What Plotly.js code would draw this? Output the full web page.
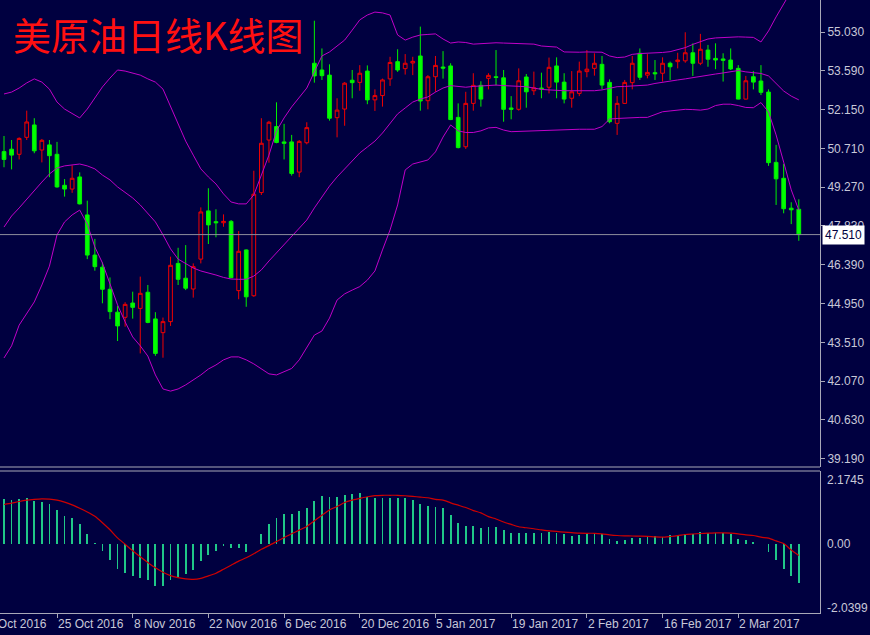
<!DOCTYPE html>
<html>
<head>
<meta charset="utf-8">
<script src="https://cdn.plot.ly/plotly-3.0.1.min.js"></script>
<style>
html,body{margin:0;padding:0;background:#000040;}
#chart{width:870px;height:635px;}
</style>
</head>
<body>
<div id="chart"></div>
<script>
const chartTitle = '美原油日线K线图';
const dates = [
'2016-10-14','2016-10-17','2016-10-18','2016-10-19','2016-10-20','2016-10-21','2016-10-24','2016-10-25','2016-10-26','2016-10-27',
'2016-10-28','2016-10-31','2016-11-01','2016-11-02','2016-11-03','2016-11-04','2016-11-07','2016-11-08','2016-11-09','2016-11-10',
'2016-11-11','2016-11-14','2016-11-15','2016-11-16','2016-11-17','2016-11-18','2016-11-21','2016-11-22','2016-11-23','2016-11-24',
'2016-11-25','2016-11-28','2016-11-29','2016-11-30','2016-12-01','2016-12-02','2016-12-05','2016-12-06','2016-12-07','2016-12-08',
'2016-12-09','2016-12-12','2016-12-13','2016-12-14','2016-12-15','2016-12-16','2016-12-19','2016-12-20','2016-12-21','2016-12-22',
'2016-12-23','2016-12-27','2016-12-28','2016-12-29','2016-12-30','2017-01-03','2017-01-04','2017-01-05','2017-01-06','2017-01-09',
'2017-01-10','2017-01-11','2017-01-12','2017-01-13','2017-01-16','2017-01-17','2017-01-18','2017-01-19','2017-01-20','2017-01-23',
'2017-01-24','2017-01-25','2017-01-26','2017-01-27','2017-01-30','2017-01-31','2017-02-01','2017-02-02','2017-02-03','2017-02-06',
'2017-02-07','2017-02-08','2017-02-09','2017-02-10','2017-02-13','2017-02-14','2017-02-15','2017-02-16','2017-02-17','2017-02-20',
'2017-02-21','2017-02-22','2017-02-23','2017-02-24','2017-02-27','2017-02-28','2017-03-01','2017-03-02','2017-03-03','2017-03-06',
'2017-03-07','2017-03-08','2017-03-09','2017-03-10','2017-03-13','2017-03-14'];

const opens = [50.59,50.68,50.49,51.12,51.58,50.65,50.84,50.49,49.34,49.20,
49.65,48.24,46.75,46.30,45.48,44.63,44.44,44.97,44.77,45.37,
44.38,43.87,44.28,46.44,45.89,45.49,46.60,48.39,47.99,47.95,
48.00,45.43,46.94,45.24,49.07,51.02,51.52,50.95,50.95,49.83,
50.92,53.87,53.62,53.43,51.85,52.17,53.24,53.16,53.58,52.51,
52.67,53.29,53.93,53.67,53.88,54.14,52.48,53.37,53.73,53.77,
51.86,50.77,52.38,53.05,53.31,53.37,53.33,52.21,52.16,53.36,
52.85,52.95,52.98,53.77,53.17,52.57,52.75,53.56,53.68,53.83,
53.16,51.64,52.38,53.15,54.24,53.43,53.52,53.50,53.87,53.93,
53.96,54.26,53.87,54.36,54.05,54.03,53.99,53.68,52.54,53.37,
53.21,52.80,50.19,49.60,48.49,48.45];
const highs = [51.17,51.02,51.12,52.11,51.83,51.06,51.02,50.95,49.57,50.08,
49.82,48.77,47.35,46.48,45.92,44.86,45.00,45.39,45.95,45.64,
44.63,44.43,46.69,47.02,47.12,46.44,48.52,49.23,48.45,48.26,
48.05,47.64,46.96,49.88,51.83,51.73,52.42,51.62,51.21,51.02,
51.68,55.45,54.42,53.83,52.57,53.17,53.62,53.80,53.79,52.90,
53.30,54.11,54.39,54.21,54.11,55.23,53.43,54.14,54.32,53.87,
52.38,52.81,53.50,53.20,53.50,54.36,53.62,52.65,53.68,53.47,
53.56,53.52,54.08,54.09,53.50,53.58,53.93,54.36,54.24,54.14,
53.27,52.65,53.25,54.14,54.42,54.21,53.99,54.09,53.93,54.26,
55.02,54.61,54.96,54.55,54.61,54.24,54.42,53.80,53.40,53.58,
53.80,52.90,50.84,50.13,48.71,48.82];
const lows = [50.01,49.93,50.30,51.02,50.53,50.19,49.64,49.25,48.92,49.06,
48.63,46.60,46.17,44.96,44.37,43.56,44.09,44.39,43.10,44.22,
43.01,42.94,44.12,45.64,45.45,45.17,46.44,47.16,47.41,47.80,
45.89,45.11,44.83,45.20,48.98,50.18,50.90,50.30,49.70,49.64,
50.86,53.15,53.25,51.74,51.12,51.55,52.57,52.85,52.35,52.10,
52.26,53.03,53.55,53.45,53.43,52.11,52.16,52.81,53.30,51.76,
50.71,50.69,52.11,52.26,52.90,53.05,51.70,51.79,52.11,52.22,
52.69,52.57,52.75,52.57,52.38,52.22,52.65,53.35,53.41,52.91,
51.64,51.21,52.36,52.90,53.25,53.31,53.25,53.19,53.25,53.68,
53.89,53.40,53.80,53.74,53.65,53.19,53.62,52.53,52.53,52.90,
52.69,50.06,48.61,48.30,47.90,47.28];
const closes = [50.30,50.46,51.08,51.69,50.62,51.01,50.44,49.28,49.20,49.60,
48.65,46.75,46.32,45.48,44.65,44.12,44.92,44.81,45.33,44.25,
43.10,44.28,46.37,45.85,45.52,46.32,48.35,47.87,47.95,48.00,
45.91,46.89,45.20,49.01,50.90,51.68,50.93,50.90,49.78,50.97,
51.48,53.40,53.41,51.83,52.13,53.13,53.15,53.50,52.51,52.67,
53.25,53.90,53.62,53.87,53.94,52.47,53.37,53.79,53.69,51.78,
50.74,52.38,53.05,52.54,53.42,53.34,52.16,52.16,53.22,52.81,
52.96,52.92,53.72,53.17,52.54,52.81,53.58,53.65,53.87,53.06,
51.70,52.38,53.16,53.87,53.35,53.53,53.48,53.87,53.74,53.99,
54.26,53.87,54.39,54.02,53.99,53.98,53.66,52.54,53.22,53.17,
52.79,50.18,49.58,48.47,48.43,47.51];

const bandUpper = [52.73,52.80,52.95,53.14,53.29,53.17,52.91,52.43,52.17,51.99,
51.84,52.17,52.58,52.99,53.32,53.62,53.58,53.51,53.43,53.29,
53.17,52.91,52.28,51.62,50.98,50.46,49.95,49.65,49.39,49.02,
48.72,48.65,48.65,48.98,49.72,50.46,51.36,51.84,52.25,52.62,
52.95,53.55,54.14,54.29,54.51,54.73,55.10,55.48,55.66,55.77,
55.74,55.66,54.92,54.73,54.84,54.92,54.94,54.96,54.77,54.62,
54.66,54.64,54.58,54.60,54.62,54.63,54.62,54.61,54.60,54.58,
54.58,54.51,54.48,54.47,54.29,54.28,54.28,54.29,54.29,54.28,
54.14,54.08,54.10,54.20,54.23,54.24,54.24,54.27,54.30,54.38,
54.45,54.57,54.68,54.77,54.81,54.83,54.84,54.85,54.84,54.83,
54.66,55.07,55.59,56.07,56.55,57.03];
const bandMiddle = [47.79,48.20,48.50,48.83,49.13,49.46,49.76,49.98,50.06,50.09,
50.13,50.06,49.95,49.72,49.54,49.28,49.09,48.87,48.61,48.31,
47.98,47.50,46.98,46.60,46.42,46.27,46.16,46.09,46.01,45.92,
45.86,45.85,45.85,45.97,46.20,46.53,46.83,47.12,47.46,47.76,
48.05,48.50,48.91,49.31,49.65,49.95,50.24,50.54,50.76,50.98,
51.28,51.65,51.99,52.21,52.43,52.54,52.62,52.80,52.95,53.04,
53.01,52.98,53.01,53.03,53.04,53.06,53.04,53.03,53.01,53.00,
52.95,52.90,52.88,52.86,52.85,52.85,52.85,52.85,52.85,52.88,
52.95,53.00,53.01,53.03,53.04,53.06,53.12,53.17,53.22,53.25,
53.29,53.34,53.38,53.42,53.47,53.51,53.56,53.60,53.55,53.53,
53.49,53.40,53.10,52.84,52.65,52.51];
const bandLower = [42.93,43.38,44.15,44.60,45.01,45.64,46.34,47.50,47.98,48.24,
48.42,47.90,47.05,46.46,45.71,44.90,44.27,43.71,43.38,43.00,
42.30,41.78,41.70,41.78,41.93,42.11,42.30,42.52,42.67,42.86,
42.97,42.97,42.86,42.71,42.52,42.34,42.30,42.41,42.54,42.86,
43.34,43.78,43.93,44.41,45.08,45.31,45.45,45.58,45.82,46.16,
46.94,47.68,48.61,49.91,50.13,50.21,50.28,50.58,51.13,51.58,
51.36,51.30,51.30,51.36,51.47,51.49,51.39,51.33,51.34,51.36,
51.37,51.39,51.39,51.39,51.40,51.41,51.42,51.42,51.42,51.52,
51.80,51.82,51.84,51.85,51.86,51.86,51.98,52.07,52.10,52.13,
52.16,52.15,52.13,52.17,52.30,52.35,52.35,52.30,52.23,52.22,
52.41,52.06,51.21,50.20,49.17,48.42];

const macdMain = [1.335,1.306,1.335,1.365,1.296,1.266,1.187,1.019,0.851,0.772,
0.603,0.307,0.04,-0.198,-0.465,-0.732,-0.861,-0.940,-1.009,-1.058,
-1.227,-1.227,-1.058,-0.959,-0.890,-0.762,-0.495,-0.326,-0.188,-0.04,
-0.119,-0.099,-0.218,0.01,0.297,0.593,0.772,0.900,0.900,0.989,
1.068,1.296,1.434,1.405,1.405,1.464,1.494,1.523,1.395,1.375,
1.375,1.385,1.375,1.365,1.325,1.187,1.128,1.098,1.078,0.870,
0.623,0.544,0.544,0.495,0.514,0.514,0.425,0.346,0.346,0.326,
0.326,0.326,0.356,0.346,0.297,0.257,0.287,0.326,0.326,0.317,
0.158,0.099,0.129,0.188,0.188,0.218,0.237,0.227,0.277,0.287,
0.317,0.317,0.356,0.336,0.336,0.336,0.297,0.158,0.129,0.079,
0.01,-0.218,-0.465,-0.742,-0.930,-1.157];
const macdSignal = [1.18,1.22,1.27,1.31,1.335,1.35,1.34,1.31,1.25,1.17,
1.07,0.96,0.83,0.64,0.43,0.19,0.00,-0.19,-0.37,-0.54,
-0.70,-0.83,-0.93,-0.99,-1.03,-1.04,-1.01,-0.94,-0.86,-0.74,
-0.62,-0.50,-0.40,-0.28,-0.15,-0.04,0.08,0.20,0.31,0.42,
0.53,0.70,0.86,1.02,1.12,1.24,1.31,1.36,1.41,1.445,
1.454,1.454,1.454,1.44,1.42,1.40,1.38,1.335,1.31,1.23,
1.16,1.09,1.00,0.93,0.82,0.75,0.66,0.59,0.52,0.49,
0.46,0.425,0.40,0.38,0.36,0.345,0.33,0.326,0.326,0.31,
0.28,0.26,0.25,0.245,0.24,0.235,0.22,0.21,0.23,0.255,
0.29,0.305,0.32,0.33,0.336,0.336,0.33,0.31,0.28,0.26,
0.21,0.18,0.10,0.02,-0.17,-0.33];

const priceTicks = [55.03,53.59,52.15,50.71,49.27,47.83,46.39,44.95,43.51,42.07,40.63,39.19];
const priceRange = [38.883, 56.218];
const macdTicks = [2.1745, 0, -2.0399];
const macdTickText = ['2.1745', '0.00', '-2.0399'];
const dateTickIndex = [-3, 7, 17, 27, 37, 47, 57, 67, 77, 87, 97];
const dateTickText = ['11 Oct 2016','25 Oct 2016','8 Nov 2016','22 Nov 2016','6 Dec 2016','20 Dec 2016','5 Jan 2017','19 Jan 2017','2 Feb 2017','16 Feb 2017','2 Mar 2017'];

const BG = '#000040';
const AXIS = '#a8a8b8';
const TXT = '#c8c8d8';
const BAND = '#c000c8';
const FONT = 'Liberation Sans, Arial, sans-serif';
const xRange = [-0.53, 107.8];

const traces = [
  {type:'scatter', mode:'lines', x:dates, y:bandUpper, xaxis:'x', yaxis:'y', line:{color:BAND, width:1}, hoverinfo:'skip'},
  {type:'scatter', mode:'lines', x:dates, y:bandMiddle, xaxis:'x', yaxis:'y', line:{color:BAND, width:1}, hoverinfo:'skip'},
  {type:'scatter', mode:'lines', x:dates, y:bandLower, xaxis:'x', yaxis:'y', line:{color:BAND, width:1}, hoverinfo:'skip'},
  {type:'candlestick', x:dates, open:opens, high:highs, low:lows, close:closes, xaxis:'x', yaxis:'y',
   increasing:{line:{color:'#f00000', width:1}, fillcolor:BG},
   decreasing:{line:{color:'#00f000', width:1}, fillcolor:'#00ff00'},
   whiskerwidth:0},
  {type:'bar', x:dates, y:macdMain, xaxis:'x', yaxis:'y2', width:0.24, marker:{color:'#20c888', line:{width:0}}},
  {type:'scatter', mode:'lines', x:dates, y:macdSignal, xaxis:'x', yaxis:'y2', line:{color:'#d00000', width:1.2, shape:'spline', smoothing:0.6}}
];

const H = 635, B = 22, PH = H - B;
const mainBottom = 467, macdTop = 471;
const mainDomain = [(PH - mainBottom) / PH, 1];
const macdDomain = [0, (PH - macdTop) / PH];

const annotations = [];
annotations.push({xref:'paper', yref:'paper', x:0.013, y:1, xanchor:'left', yanchor:'top', yshift:-4,
  text:chartTitle, showarrow:false, font:{family:'Noto Sans CJK SC, sans-serif', size:38, color:'#ff1010'}});
dateTickIndex.forEach((ix, k) => {
  annotations.push({xref:'paper', yref:'paper', x:(ix - xRange[0]) / (xRange[1] - xRange[0]), y:0,
    xanchor:'left', yanchor:'top', yshift:-2, xshift:-1,
    text:dateTickText[k], showarrow:false, font:{family:FONT, size:12, color:TXT}});
});
const macdShift = [-9, 0, 5];
macdTicks.forEach((v, k) => {
  annotations.push({xref:'paper', yref:'y2', x:1, y:v, xanchor:'left', yanchor:'middle', xshift:5, yshift:macdShift[k],
    text:macdTickText[k], showarrow:false, font:{family:FONT, size:12, color:TXT}});
});
const lastClose = closes[closes.length - 1];
annotations.push({xref:'paper', yref:'y', x:1, y:lastClose, xanchor:'left', yanchor:'middle', xshift:2,
  text:lastClose.toFixed(3), showarrow:false, bgcolor:'#ffffff', borderpad:2,
  font:{family:FONT, size:12, color:'#000040'}});

const shapes = [
  {type:'line', xref:'paper', yref:'y', x0:0, x1:1, y0:lastClose, y1:lastClose, line:{color:'#8c8c9c', width:1}},
  {type:'line', xref:'paper', yref:'paper', x0:0, x1:1.0, y0:mainDomain[0], y1:mainDomain[0], line:{color:AXIS, width:1}},
  {type:'line', xref:'paper', yref:'paper', x0:0, x1:1.0, y0:macdDomain[1], y1:macdDomain[1], line:{color:AXIS, width:1}}
];

const layout = {
  width:870, height:H,
  margin:{l:0, r:50, t:0, b:B, pad:0},
  paper_bgcolor:BG, plot_bgcolor:BG,
  showlegend:false,
  hovermode:false,
  bargap:0,
  xaxis:{type:'category', anchor:'y2', range:xRange, showgrid:false, zeroline:false,
    showline:true, linecolor:AXIS, linewidth:1, ticks:'outside', ticklen:4, tickcolor:AXIS,
    tickvals:dateTickIndex.filter(i => i >= 0).map(i => dates[i]), showticklabels:false,
    rangeslider:{visible:false}},
  yaxis:{domain:mainDomain, range:priceRange, side:'right', anchor:'x', showgrid:false, zeroline:false,
    showline:true, linecolor:AXIS, linewidth:1, ticks:'outside', ticklen:4, tickcolor:AXIS,
    tickvals:priceTicks, tickformat:'.3f', tickfont:{family:FONT, size:12, color:TXT}},
  yaxis2:{domain:macdDomain, range:[macdTicks[2], macdTicks[0]], side:'right', anchor:'x', showgrid:false, zeroline:false,
    showline:true, linecolor:AXIS, linewidth:1, ticks:'', showticklabels:false},
  annotations:annotations,
  shapes:shapes
};

Plotly.newPlot('chart', traces, layout, {staticPlot:true, displayModeBar:false});
</script>
</body>
</html>
